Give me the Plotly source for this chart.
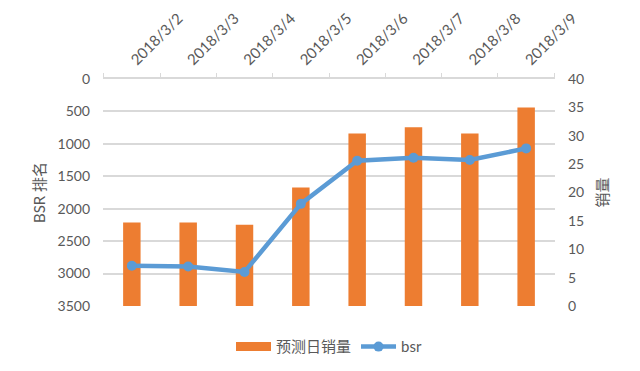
import plotly.graph_objects as go

dates = ["2018/3/2", "2018/3/3", "2018/3/4", "2018/3/5", "2018/3/6", "2018/3/7", "2018/3/8", "2018/3/9"]
sales = [14.7, 14.7, 14.3, 20.9, 30.4, 31.5, 30.4, 35.0]
bsr = [2880, 2890, 2975, 1925, 1260, 1215, 1250, 1070]

FONT = "Lato, 'Noto Sans CJK SC', sans-serif"
GRAY = "#595959"
ORANGE = "#ED7D31"
BLUE = "#5B9BD5"

fig = go.Figure()
fig.add_trace(go.Bar(
    x=dates, y=sales, name="预测日销量", marker_color=ORANGE,
    marker_line_width=0, yaxis="y", showlegend=False,
))
# legend-only entry so the bar key is drawn as a wide rectangle
fig.add_trace(go.Scatter(
    x=[None], y=[None], name="预测日销量", mode="lines",
    line=dict(color=ORANGE, width=9), yaxis="y",
))
fig.add_trace(go.Scatter(
    x=dates, y=bsr, name="bsr", mode="lines+markers",
    line=dict(color=BLUE, width=4.5),
    marker=dict(color=BLUE, size=10), yaxis="y2",
))

fig.update_layout(
    width=624, height=355,
    margin=dict(l=95, r=77, t=71, b=57, autoexpand=False),
    paper_bgcolor="white", plot_bgcolor="white",
    font=dict(family=FONT, color=GRAY, size=13),
    bargap=0.69,
    showlegend=True,
    legend=dict(orientation="h", x=0.5, xanchor="center", y=-0.18, yanchor="middle",
                font=dict(size=15, color=GRAY), itemwidth=35, traceorder="normal"),
    xaxis=dict(
        side="top", type="category", tickangle=-45, automargin=False,
        showline=True, linecolor="#D9D9D9", linewidth=1.5,
        ticks="outside", ticklen=4, tickcolor="#D9D9D9",
        tickson="boundaries", showgrid=False,
        tickfont=dict(size=15, color=GRAY), ticklabelstandoff=3,
    ),
    yaxis=dict(
        side="right", range=[0, 40], dtick=5, showgrid=False, zeroline=False,
        automargin=False,
        tickfont=dict(size=14, color=GRAY), ticklabelstandoff=12,
        title=dict(text="销量", font=dict(size=15, color=GRAY), standoff=14),
    ),
    yaxis2=dict(
        overlaying="y", side="left", range=[3500, 0], dtick=500,
        automargin=False,
        showgrid=True, gridcolor="#D9D9D9", gridwidth=1.5, zeroline=False,
        tickfont=dict(size=14, color=GRAY), ticklabelstandoff=12,
        title=dict(text="BSR 排名", font=dict(size=15, color=GRAY), standoff=8),
    ),
)

fig.write_html("out.html")
